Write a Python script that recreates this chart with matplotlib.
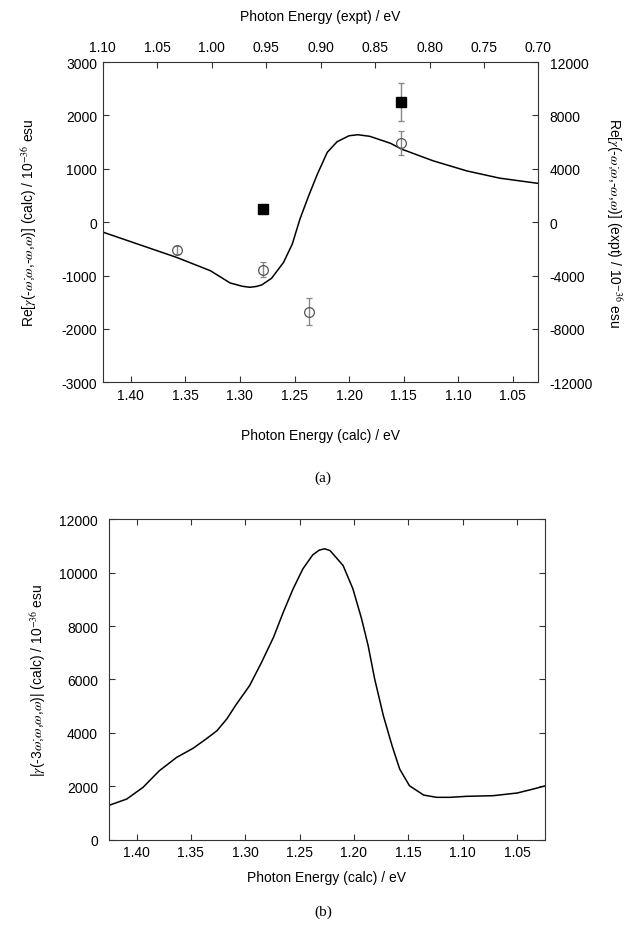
import numpy as np
import matplotlib.pyplot as plt

plt.rcParams['font.family'] = ['Liberation Sans', 'DejaVu Sans']
plt.rcParams['mathtext.fontset'] = 'stix'
plt.rcParams['font.size'] = 10
plt.rcParams['axes.unicode_minus'] = False

# (a) Re[gamma(-w;w,-w,w)] calc curve vs calc photon energy
calc_e = [1.425, 1.358, 1.327, 1.309, 1.298, 1.291, 1.285, 1.280, 1.271, 1.260,
          1.252, 1.245, 1.237, 1.229, 1.220, 1.211, 1.200, 1.192, 1.181, 1.162,
          1.152, 1.123, 1.092, 1.062, 1.026]
re_calc = [-190, -660, -910, -1139, -1200, -1220, -1205, -1176, -1051, -752,
           -408, 60, 496, 903, 1309, 1508, 1620, 1639, 1609, 1478,
           1370, 1150, 960, 825, 725]

# experimental points (top x axis, right y axis)
circ_e = [1.032, 0.953, 0.9105, 0.826]
circ_val = [-2100, -3550, -6700, 5950]
circ_err = [300, 550, 1000, 900]
sq_e = [0.953, 0.826]
sq_val = [1000, 9000]
sq_err = [250, 1400]

# (b) |gamma(-3w;w,w,w)| calc
abs_e = [1.4245, 1.409, 1.394, 1.379, 1.363, 1.348, 1.336, 1.326, 1.317, 1.308,
         1.296, 1.285, 1.274, 1.265, 1.256, 1.247, 1.238, 1.232, 1.227, 1.222,
         1.210, 1.201, 1.193, 1.187, 1.181, 1.173, 1.165, 1.158, 1.149, 1.136,
         1.124, 1.112, 1.097, 1.072, 1.050, 1.035, 1.024]
abs_val = [1300, 1524, 1962, 2584, 3086, 3423, 3772, 4082, 4520, 5082,
           5770, 6640, 7580, 8520, 9390, 10140, 10660, 10840, 10890, 10824,
           10262, 9390, 8266, 7266, 6019, 4644, 3520, 2648, 2022, 1674,
           1588, 1588, 1625, 1650, 1750, 1900, 2020]

calc_ticks = [1.40, 1.35, 1.30, 1.25, 1.20, 1.15, 1.10, 1.05]
expt_ticks = [1.10, 1.05, 1.00, 0.95, 0.90, 0.85, 0.80, 0.75, 0.70]

frame = '#333333'

fig = plt.figure(figsize=(6.38, 9.28), dpi=100)

# ---- panel (a)
rect_a = [0.161, 0.587, 0.683, 0.345]
ax = fig.add_axes(rect_a)
ax.plot(calc_e, re_calc, color='black', lw=1.1)
ax.set_xlim(1.4257, 1.0265)
ax.set_ylim(-3000, 3000)
ax.set_xticks(calc_ticks)
ax.set_xticklabels([f"{v:.2f}" for v in calc_ticks])
ax.set_yticks(range(-3000, 3001, 1000))
ax.tick_params(direction='in', length=4, color=frame, top=False, right=False)
ax.tick_params(axis='y', pad=4)
ax.tick_params(axis='x', pad=4)
ax.set_xlabel("Photon Energy (calc) / eV", labelpad=19)
ax.set_ylabel(r"Re[$\gamma$(-$\omega$;$\omega$,-$\omega$,$\omega$)] (calc) / 10$^{-36}$ esu", labelpad=16)
for s in ax.spines.values():
    s.set_color(frame)

axe = fig.add_axes(rect_a, facecolor='none', label='expt')
axe.errorbar(circ_e, circ_val, yerr=circ_err, fmt='o', mfc='none', mec='#555555',
             ms=7, mew=0.9, ecolor='#888888', elinewidth=1, capsize=2)
axe.errorbar(sq_e, sq_val, yerr=sq_err, fmt='s', color='black', ms=7,
             ecolor='#888888', elinewidth=1, capsize=2)
axe.set_xlim(1.10, 0.70)
axe.set_ylim(-12000, 12000)
axe.set_xticks(expt_ticks)
axe.set_xticklabels([f"{v:.2f}" for v in expt_ticks])
axe.set_yticks(range(-12000, 12001, 4000))
axe.xaxis.tick_top()
axe.xaxis.set_label_position('top')
axe.yaxis.tick_right()
axe.yaxis.set_label_position('right')
axe.tick_params(direction='in', length=4, color=frame)
axe.tick_params(axis='x', pad=6)
axe.tick_params(axis='y', pad=8)
axe.set_xlabel("Photon Energy (expt) / eV", labelpad=14)
axe.set_ylabel(r"Re[$\gamma$(-$\omega$;$\omega$,-$\omega$,$\omega$)] (expt) / 10$^{-36}$ esu",
               rotation=270, labelpad=22)
for s in axe.spines.values():
    s.set_visible(False)

fig.text(0.506, 0.485, "(a)", family='Liberation Serif', fontsize=11, ha='center', va='center')

# ---- panel (b)
bx = fig.add_axes([0.171, 0.094, 0.683, 0.3455])
bx.plot(abs_e, abs_val, color='black', lw=1.1)
bx.set_xlim(1.4252, 1.0245)
bx.set_ylim(0, 12000)
bx.set_xticks(calc_ticks)
bx.set_xticklabels([f"{v:.2f}" for v in calc_ticks])
bx.set_yticks(range(0, 12001, 2000))
bx.tick_params(direction='in', length=4, color=frame, top=True, right=True)
bx.tick_params(axis='y', pad=8)
bx.tick_params(axis='x', pad=4)
bx.set_xlabel("Photon Energy (calc) / eV", labelpad=8)
bx.set_ylabel(r"|$\gamma$(-3$\omega$;$\omega$,$\omega$,$\omega$)| (calc) / 10$^{-36}$ esu", labelpad=8)
for s in bx.spines.values():
    s.set_color(frame)

fig.text(0.506, 0.017, "(b)", family='Liberation Serif', fontsize=11, ha='center', va='center')

fig.savefig("out.png", dpi=100)
